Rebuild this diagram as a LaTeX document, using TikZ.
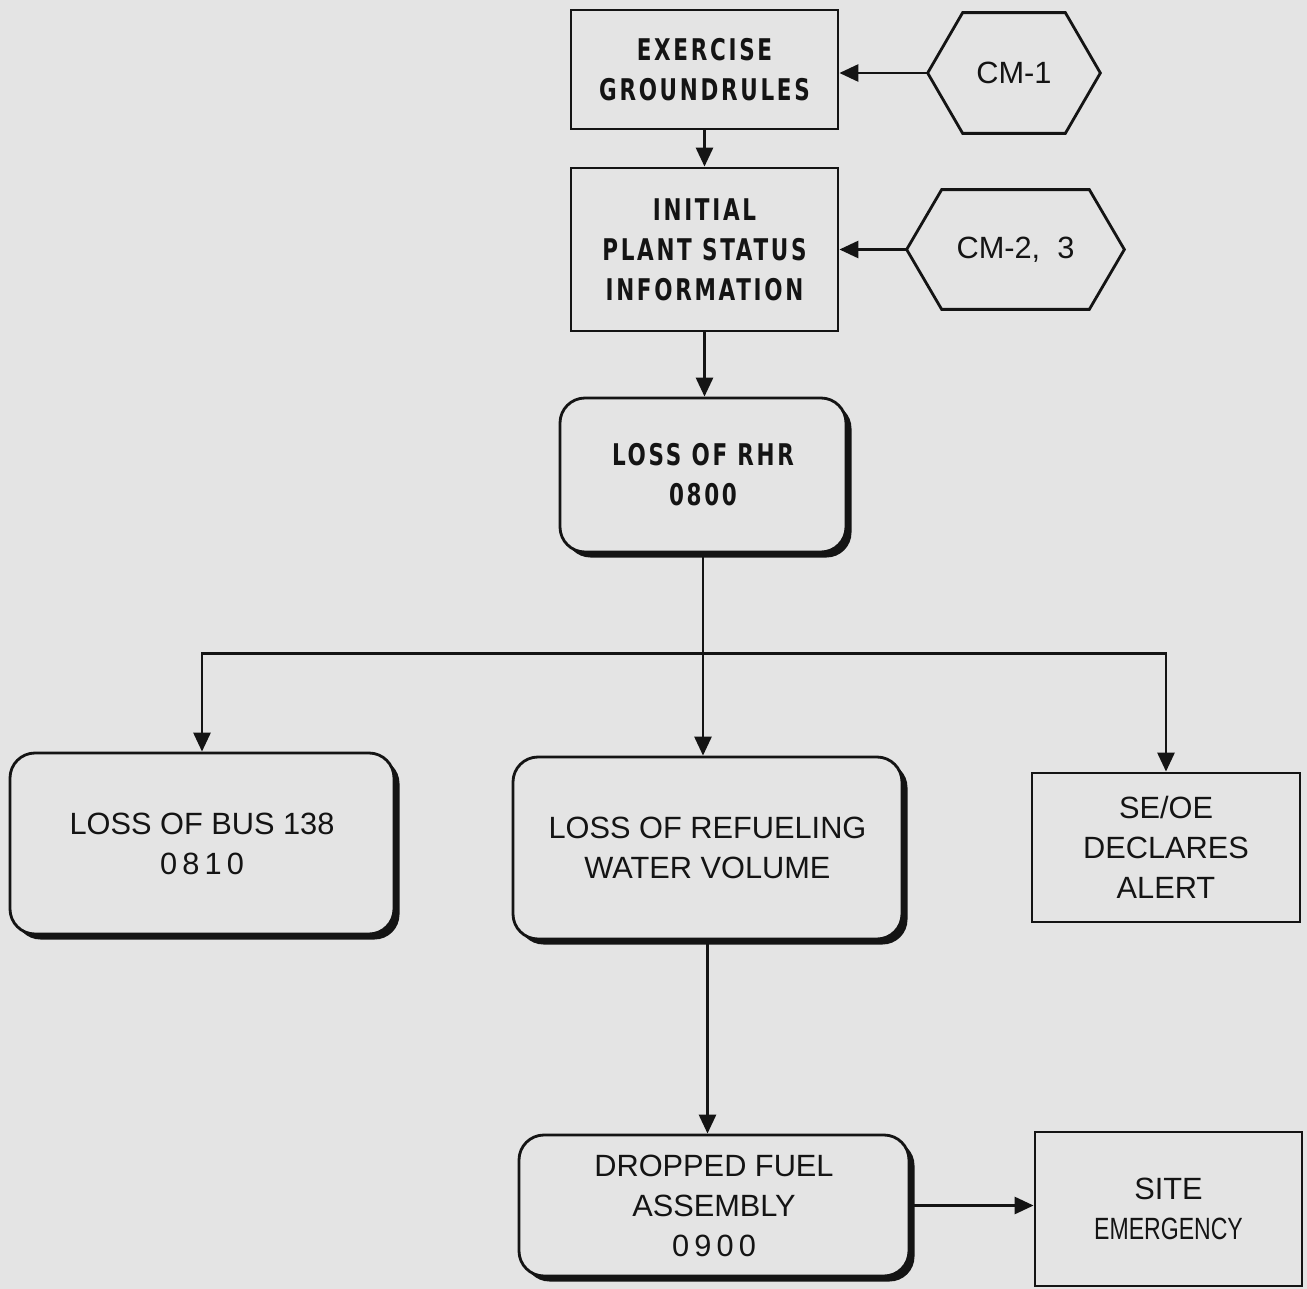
\documentclass[tikz,border=0pt]{standalone}
\usepackage{fontspec}
\setmainfont{Liberation Sans}
\newfontfamily\topfont{DejaVu Sans}[FakeStretch=0.72,LetterSpace=9]
\usetikzlibrary{arrows.meta,shadows,calc}
\definecolor{bg}{HTML}{E4E4E4}
\definecolor{ink}{HTML}{141414}
\tikzset{
  box/.style={draw=ink, line width=1.6pt, fill=bg, inner sep=0pt, align=center, text=ink},
  sqbox/.style={box, rectangle},
  rbox/.style={box, rounded corners=0.5cm,
     drop shadow={shadow xshift=0.11cm, shadow yshift=-0.11cm, fill=ink, opacity=1}},
  boldtxt/.style={font=\topfont\bfseries\fontsize{17}{22.8}\selectfont},
  plaintxt/.style={font=\fontsize{17.5}{22.8}\selectfont},
  hexspace/.style={draw=none, inner sep=0pt, text=ink},
  conn/.style={draw=ink, line width=1.6pt},
  arr/.style={conn, -{Triangle[length=0.38cm,width=0.34cm]}}
}
\begin{document}
\begin{tikzpicture}
\fill[bg] (0,0) rectangle (26.14,-25.78);
\useasboundingbox (0,0) rectangle (26.14,-25.78);

% top boxes
\node[sqbox, boldtxt, minimum width=5.34cm, minimum height=2.38cm] (ex) at (14.09,-1.39) {EXERCISE\\GROUNDRULES};
\node[sqbox, boldtxt, minimum width=5.34cm, minimum height=3.26cm] (init) at (14.09,-4.99) {INITIAL\\PLANT STATUS\\INFORMATION};

% hexagons
\node[hexspace, plaintxt, minimum width=3.44cm, minimum height=2.4cm] (cm1) at (20.28,-1.46) {CM-1};
\draw[conn] (cm1.west) -- ($(cm1.north west)+(0.7,0)$) -- ($(cm1.north east)+(-0.7,0)$) -- (cm1.east)
  -- ($(cm1.south east)+(-0.7,0)$) -- ($(cm1.south west)+(0.7,0)$) -- cycle;
\node[hexspace, plaintxt, minimum width=4.34cm, minimum height=2.38cm] (cm23) at (20.31,-4.99) {CM-2,\ \ 3};
\draw[conn] (cm23.west) -- ($(cm23.north west)+(0.7,0)$) -- ($(cm23.north east)+(-0.7,0)$) -- (cm23.east)
  -- ($(cm23.south east)+(-0.7,0)$) -- ($(cm23.south west)+(0.7,0)$) -- cycle;

% loss of RHR
\node[rbox, boldtxt, minimum width=5.72cm, minimum height=3.08cm] (rhr) at (14.06,-9.5) {LOSS OF RHR\\0800};

% second row
\node[rbox, plaintxt, minimum width=7.68cm, minimum height=3.62cm] (bus) at (4.04,-16.87) {LOSS OF BUS 138\\0\,8\,1\,0};
\node[rbox, plaintxt, minimum width=7.78cm, minimum height=3.64cm] (refuel) at (14.15,-16.96) {LOSS OF REFUELING\\WATER VOLUME};
\node[sqbox, plaintxt, minimum width=5.36cm, minimum height=2.98cm] (seoe) at (23.32,-16.95) {SE/OE\\DECLARES\\ALERT};

% bottom row
\node[rbox, plaintxt, minimum width=7.8cm, minimum height=2.82cm] (drop) at (14.28,-24.11) {DROPPED FUEL\\ASSEMBLY\\0\,9\,0\,0};
\node[sqbox, plaintxt, minimum width=5.34cm, minimum height=3.08cm] (site) at (23.37,-24.18) {SITE\\\scalebox{0.75}[1]{EMERGENCY}};

% connectors
\draw[arr] (ex.south) -- (init.north);
\draw[arr] (cm1.west) -- (cm1.west -| ex.east);
\draw[arr] (cm23.west) -- (cm23.west -| init.east);
\draw[arr] (init.south) -- (init.south |- rhr.north);
\coordinate (split) at ($(rhr.south)+(0,-2.0)$);
\draw[conn] (rhr.south) -- (split);
\draw[arr] (split) -| (bus.north);
\draw[arr] (split) -- (split |- refuel.north);
\draw[arr] (split) -| (seoe.north);
\draw[arr] (refuel.south) -- (refuel.south |- drop.north);
\draw[arr] (drop.east) -- (drop.east -| site.west);
\end{tikzpicture}
\end{document}
